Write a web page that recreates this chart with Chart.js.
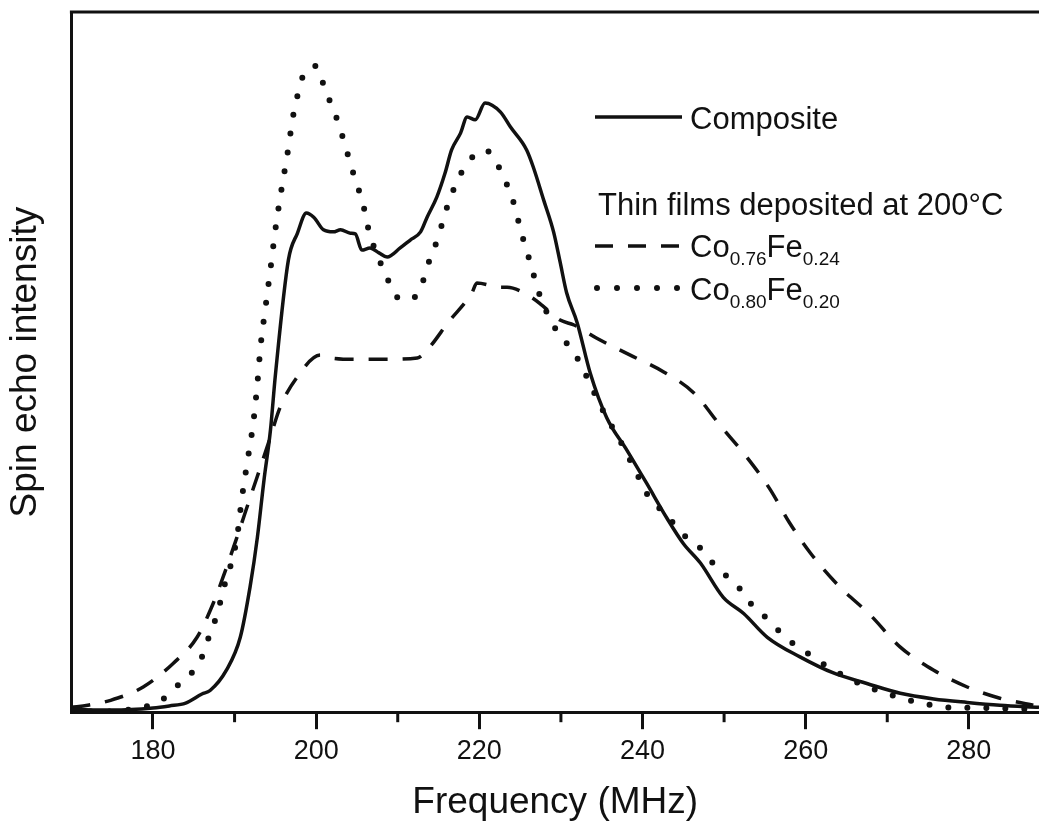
<!DOCTYPE html>
<html>
<head>
<meta charset="utf-8">
<title>Spin echo intensity vs frequency</title>
<script src="https://cdn.jsdelivr.net/npm/chart.js@4.4.0/dist/chart.umd.min.js"></script>
<style>
    html, body { margin: 0; padding: 0; background: #fff; }
    #wrap { width: 1039px; height: 825px; position: relative; }
</style>
</head>
<body>
<div id="wrap"><canvas id="spinChart"></canvas></div>
<script>
// Frequency (MHz) and spin echo intensity (arbitrary units, 0..100)
const compositeFreq = [170, 175, 180, 182, 184, 186, 187, 189, 190.7, 191.9, 192.8, 193.6, 194.4, 195, 196.6, 197.7, 198.8, 199.7, 200.9, 202.1, 203, 204.2, 204.8, 205.6, 206.6, 207.7, 208.7, 210.3, 211.5, 212.8, 213.6, 214.8, 215.8, 216.6, 217.7, 218.5, 219.5, 220.7, 222.6, 223.8, 225.8, 226.6, 227.9, 229.1, 229.9, 230.7, 232, 233.6, 235.6, 238.1, 240.5, 243, 245, 247.1, 249.9, 252.4, 255.3, 259.3, 263.4, 267.5, 271.6, 275.7, 279.8, 283.8, 288.6];
const compositeVals = [0.4, 0.3, 0.6, 0.9, 1.3, 2.6, 3.1, 6.0, 10.7, 17.9, 25.0, 33.1, 40.3, 48.1, 64.6, 68.4, 71.3, 70.7, 68.9, 68.6, 68.9, 68.4, 68.3, 66.0, 66.3, 65.6, 65.0, 66.3, 67.4, 68.6, 70.7, 73.6, 77.0, 80.3, 82.7, 85.0, 84.6, 87.0, 85.7, 83.6, 80.3, 77.9, 73.1, 68.6, 64.3, 59.9, 55.6, 48.4, 42.1, 37.4, 32.7, 27.7, 24.1, 21.3, 16.4, 14.1, 10.7, 7.9, 5.6, 4.1, 2.7, 1.9, 1.4, 1.0, 0.7];

const co76Freq = [170, 172, 174.8, 178.8, 182.5, 185.4, 187.4, 188.9, 190.3, 191.7, 194.2, 195.6, 197.7, 200.5, 201.3, 204.8, 208.7, 212.4, 213.8, 216.2, 219.1, 219.7, 222.6, 223.4, 226.3, 227.7, 229.9, 231.6, 234.4, 238.5, 242.6, 246.3, 249.5, 252.8, 255.6, 258, 260.6, 264, 267.9, 271.6, 275.7, 279.8, 283.8, 287.9];
const co76Vals = [0.7, 1.0, 1.7, 3.6, 7.0, 10.7, 15.6, 20.3, 25.0, 29.9, 38.6, 43.6, 47.9, 51.0, 50.7, 50.4, 50.4, 50.6, 52.0, 55.7, 59.9, 61.3, 60.7, 60.7, 59.3, 58.1, 56.0, 55.3, 53.4, 51.0, 48.6, 45.6, 41.0, 36.4, 31.9, 27.1, 22.7, 18.1, 13.9, 9.3, 6.0, 3.6, 2.0, 1.0];

const co80Freq = [170, 175, 178.4, 180.7, 182.6, 184.8, 186.2, 187, 187.9, 188.5, 190.3, 190.9, 191.6, 192.3, 192.8, 193.2, 193.8, 194.4, 195, 195.7, 196.5, 197.2, 197.7, 198.4, 200, 201, 201.9, 202.8, 203.5, 204.2, 204.9, 205.7, 206.2, 206.8, 207.7, 208.7, 209.9, 211, 212.1, 213.2, 213.9, 214.8, 215.5, 216.2, 217.2, 218.5, 220.7, 222.6, 223.6, 224.4, 225, 225.7, 226.4, 227.1, 228.9, 230.7, 232.3, 233.4, 234.5, 235.7, 237.1, 238.3, 239.5, 240.8, 243, 244.8, 247.2, 249.3, 251.4, 253.2, 255.5, 257.6, 260, 262.4, 267, 271.8, 274.2, 277.3, 282, 288.6];
const co80Vals = [0.1, 0.1, 0.7, 1.4, 3.4, 5.7, 8.4, 11.3, 14.1, 17.0, 25.0, 30.6, 36.0, 41.4, 47.0, 52.4, 57.9, 63.3, 68.9, 74.3, 79.9, 85.3, 88.0, 90.9, 92.3, 89.3, 86.6, 83.9, 81.1, 78.4, 75.6, 72.9, 70.0, 67.4, 64.7, 62.0, 59.3, 58.9, 59.3, 61.9, 64.6, 67.3, 70.0, 72.7, 75.6, 78.4, 80.3, 77.4, 74.7, 72.0, 69.1, 66.3, 63.6, 60.6, 55.6, 52.7, 50.0, 47.3, 44.6, 41.9, 39.1, 36.4, 33.6, 30.7, 28.1, 25.6, 23.3, 20.4, 18.4, 15.6, 13.1, 10.6, 8.6, 6.7, 3.9, 2.0, 1.3, 0.7, 0.6, 0.4];

const xTicks = [180, 200, 220, 240, 260, 280];
const xMinorTicks = [190, 210, 230, 250, 270];

const ink = '#111';
const family = "'Liberation Sans', Arial, Helvetica, sans-serif";

const toPoints = (xs, ys) => xs.map((x, i) => ({ x: x, y: ys[i] }));

// draws one legend label, parts are [text, isSubscript]
const drawFormula = (ctx, parts, x, y) => {
    parts.forEach(([text, sub]) => {
        ctx.font = (sub ? '19px ' : '31px ') + family;
        ctx.fillText(text, x, sub ? y + 8 : y);
        x += ctx.measureText(text).width;
    });
};

// top frame line, minor ticks and the legend
const frameAndLegend = {
    id: 'frameAndLegend',
    afterDraw(chart) {
        const ctx = chart.ctx;
        const area = chart.chartArea;
        const xScale = chart.scales.x;

        ctx.save();
        ctx.strokeStyle = ink;
        ctx.fillStyle = ink;
        ctx.lineWidth = 3;

        ctx.beginPath();
        ctx.moveTo(area.left - 1.5, area.top);
        ctx.lineTo(area.right, area.top);
        ctx.stroke();

        xMinorTicks.forEach(v => {
            const px = xScale.getPixelForValue(v);
            ctx.beginPath();
            ctx.moveTo(px, area.bottom);
            ctx.lineTo(px, area.bottom + 10);
            ctx.stroke();
        });

        // legend samples
        ctx.lineWidth = 3.5;
        ctx.beginPath();
        ctx.moveTo(595, 117);
        ctx.lineTo(682, 117);
        ctx.stroke();

        ctx.setLineDash([18, 15]);
        ctx.beginPath();
        ctx.moveTo(595, 246);
        ctx.lineTo(680, 246);
        ctx.stroke();

        ctx.lineWidth = 6;
        ctx.lineCap = 'round';
        ctx.setLineDash([0, 20]);
        ctx.beginPath();
        ctx.moveTo(597, 288);
        ctx.lineTo(680, 288);
        ctx.stroke();
        ctx.setLineDash([]);

        ctx.textBaseline = 'alphabetic';
        ctx.textAlign = 'left';
        ctx.font = '31px ' + family;
        ctx.fillText('Composite', 690, 129);
        ctx.fillText('Thin films deposited at 200\u00B0C', 598, 215);
        drawFormula(ctx, [['Co', false], ['0.76', true], ['Fe', false], ['0.24', true]], 690, 257);
        drawFormula(ctx, [['Co', false], ['0.80', true], ['Fe', false], ['0.20', true]], 690, 300);

        ctx.restore();
    }
};

const spinChart = new Chart(document.getElementById('spinChart').getContext('2d'), {
    type: 'line',
    data: {
        datasets: [
            {
                label: 'Composite',
                data: toPoints(compositeFreq, compositeVals),
                borderColor: ink,
                borderWidth: 3.5
            },
            {
                label: 'Co0.76Fe0.24',
                data: toPoints(co76Freq, co76Vals),
                borderColor: ink,
                borderWidth: 3.5,
                borderDash: [19, 15]
            },
            {
                label: 'Co0.80Fe0.20',
                data: toPoints(co80Freq, co80Vals),
                borderColor: ink,
                borderWidth: 6,
                borderCapStyle: 'round',
                borderDash: [0, 19]
            }
        ]
    },
    options: {
        responsive: true,
        maintainAspectRatio: false,
        animation: false,
        devicePixelRatio: 1,
        layout: { padding: { top: 12, right: 0, bottom: 0, left: 0 } },
        elements: {
            point: { radius: 0 },
            line: { cubicInterpolationMode: 'monotone', fill: false }
        },
        plugins: {
            legend: { display: false },
            tooltip: { enabled: false }
        },
        scales: {
            x: {
                type: 'linear',
                min: 170,
                max: 288.6,
                afterBuildTicks: (scale) => {
                    scale.ticks = xTicks.map(v => ({ value: v }));
                },
                grid: { display: true, drawOnChartArea: false, drawTicks: true, tickLength: 17, lineWidth: 3, color: ink },
                border: { display: true, width: 3, color: ink },
                ticks: { color: ink, font: { size: 27, family: family }, padding: 6, maxRotation: 0, autoSkip: false },
                title: {
                    display: true,
                    text: 'Frequency (MHz)',
                    color: ink,
                    font: { size: 37, family: family },
                    padding: { top: 7, bottom: 0 }
                }
            },
            y: {
                min: 0,
                max: 100,
                grid: { display: false },
                ticks: { display: false },
                border: { display: true, width: 3, color: ink },
                title: {
                    display: true,
                    text: 'Spin echo intensity',
                    color: ink,
                    font: { size: 37, family: family },
                    padding: { top: 4, bottom: 15 }
                }
            }
        }
    },
    plugins: [frameAndLegend]
});
</script>
</body>
</html>
